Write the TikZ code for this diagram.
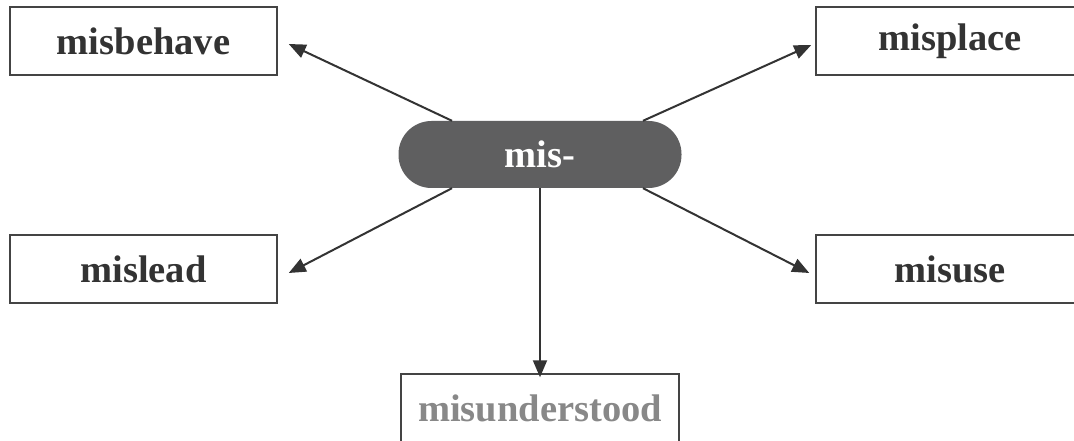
\documentclass[tikz,border=0pt]{standalone}
\usepackage{fontspec}
\setmainfont{Liberation Serif}
\usetikzlibrary{arrows.meta}
\definecolor{txt}{HTML}{333333}
\definecolor{edge}{HTML}{444444}
\definecolor{pillfill}{HTML}{5F5F60}
\definecolor{graytxt}{HTML}{888888}
\tikzset{
  wordbox/.style={draw=edge, line width=1.5pt, fill=white, minimum width=267pt, minimum height=68pt, inner sep=0pt, text=txt, font=\fontsize{38.5}{44}\selectfont\bfseries},
  pill/.style={fill=pillfill, rounded corners=33pt, minimum width=283pt, minimum height=67pt, inner sep=0pt, text=white, font=\fontsize{38.5}{44}\selectfont\bfseries},
  arr/.style={draw=txt, line width=2pt, -{Triangle[length=17pt,width=14pt]}, fill=txt}
}
\begin{document}
\begin{tikzpicture}[x=1pt,y=-1pt]
\clip (0,0) rectangle (1074,441);
\fill[white] (0,0) rectangle (1074,441);
\node[pill] (root) at (540,154.5) {mis-};
\node[wordbox] (mb) at (143.5,41) {misbehave};
\node[wordbox, minimum width=268pt] (mp) at (950,41) {misplace};
\node[wordbox] (ml) at (143.5,269) {mislead};
\node[wordbox, minimum width=268pt] (mu) at (950,269) {misuse};
\node[wordbox, minimum width=278pt, text=graytxt] (mn) at (540,408) {misunderstood};
\draw[arr] ([xshift=-88pt]root.north) -- ([xshift=11pt,yshift=-3pt]mb.east);
\draw[arr] ([xshift=103pt]root.north) -- ([xshift=-4pt,yshift=-4pt]mp.west);
\draw[arr] ([xshift=-88pt]root.south) -- ([xshift=11pt,yshift=-4pt]ml.east);
\draw[arr] ([xshift=103pt]root.south) -- ([xshift=-6pt,yshift=-4pt]mu.west);
\draw[arr] (root.south) -- ([yshift=-4pt]mn.north);
\end{tikzpicture}
\end{document}
